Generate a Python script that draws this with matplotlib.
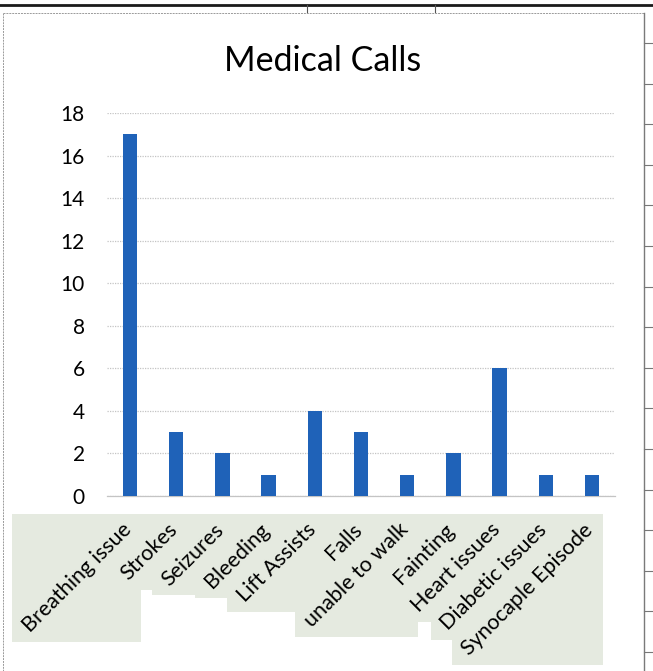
"""Medical calls by type - clustered column chart with shaded category labels."""

import matplotlib

matplotlib.use("Agg")
import matplotlib.pyplot as plt
import matplotlib.transforms as mtransforms
import numpy as np
from matplotlib.lines import Line2D
from matplotlib.patches import Rectangle

# ─── data ────────────────────────────────────────────────────────────────────

categories = [
    "Breathing issue", "Strokes", "Seizures", "Bleeding", "Lift Assists",
    "Falls", "unable to walk", "Fainting", "Heart issues", "Diabetic issues",
    "Synocaple Episode",
]
calls = [17, 3, 2, 1, 4, 3, 1, 2, 6, 1, 1]
y_ticks = [0, 2, 4, 6, 8, 10, 12, 14, 16, 18]

TITLE = "Medical Calls"
BAR = "#1F62B8"
GRID = "#c4c4c4"
LABEL_BG = "#e5eae0"
FONT = "Lato"

W, H, DPI = 653, 671, 100


def px(x, y):
    """Pixel (from top-left) -> figure fraction."""
    return x / W, 1 - y / H


fig = plt.figure(figsize=(W / DPI, H / DPI), dpi=DPI)
fig.patch.set_facecolor("white")

# plot area
x0, y0 = px(107, 496)
x1, y1 = px(615, 113)
ax = fig.add_axes([x0, y0, x1 - x0, y1 - y0])

pos = np.arange(len(categories))
ax.bar(pos, calls, width=0.31, color=BAR, zorder=3)

ax.set_xlim(-0.5, len(categories) - 0.5)
ax.set_ylim(0, 18)
ax.set_yticks(y_ticks)
ax.set_yticklabels([str(v) for v in y_ticks], fontsize=15, family=FONT)
ax.tick_params(axis="y", length=0, pad=16)
ax.tick_params(axis="x", length=0, pad=17)
ax.grid(axis="y", color=GRID, lw=0.9, ls=(0, (1, 1)), zorder=0)
for side in ("top", "right", "left"):
    ax.spines[side].set_visible(False)
ax.spines["bottom"].set_color(GRID)
ax.spines["bottom"].set_linewidth(0.9)
ax.spines["bottom"].set_linestyle((0, (1, 1)))

ax.set_xticks(pos)
shift = mtransforms.ScaledTranslation(5 / DPI, 0, fig.dpi_scale_trans)
labels = ax.set_xticklabels(categories, rotation=45, ha="right", va="top",
                            fontsize=15.5, family=FONT)
for lab in labels:
    lab.set_transform(lab.get_transform() + shift)

# title centred on the chart frame
tx, ty = px(323, 61)
fig.text(tx, ty, TITLE, ha="center", va="center", fontsize=24.5, family=FONT)

# shaded boxes behind each rotated category label
fig.canvas.draw()
renderer = fig.canvas.get_renderer()
inv = fig.transFigure.inverted()
box_pad = 6
for lab in ax.get_xticklabels():
    bb = lab.get_window_extent(renderer).padded(box_pad).transformed(inv)
    fig.patches.append(Rectangle((bb.x0, bb.y0), bb.width, bb.height,
                                 transform=fig.transFigure, facecolor=LABEL_BG,
                                 edgecolor="none", antialiased=False, zorder=-1))

# chart frame
fl, ft = px(3, 13)
fr, fb = px(644, 671)
fig.add_artist(Line2D([fl, fr], [ft, ft], color="#9a9a9a", lw=0.7, ls=(0, (2, 1))))
fig.add_artist(Line2D([fl, fl], [ft, fb], color="#9a9a9a", lw=0.7, ls=(0, (2, 1))))
fig.add_artist(Line2D([fr, fr], [ft, fb], color="#7a7a7a", lw=1.0))

# sheet border along the top and row lines to the right
_, top = px(0, 5)
fig.add_artist(Line2D([0, 1], [top, top], color="#1a1a1a", lw=2.0))
for cx in (307, 435):
    a = px(cx, 5)
    b = px(cx, 12)
    fig.add_artist(Line2D([a[0], b[0]], [a[1], b[1]], color="#555555", lw=0.8))
for ry in np.arange(43, 671, 40.6):
    a = px(644, ry)
    fig.add_artist(Line2D([a[0], 1], [a[1], a[1]], color="#777777", lw=0.8))

fig.savefig("out.png", dpi=DPI, facecolor="white")
